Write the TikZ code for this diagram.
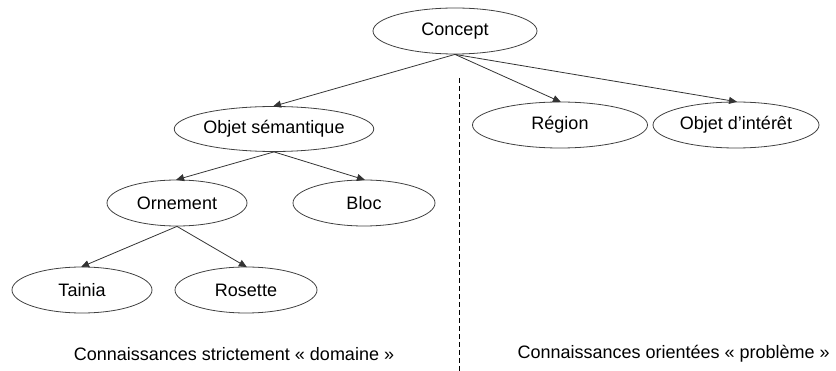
\documentclass[tikz,border=0pt]{standalone}
\usepackage{fontspec}
\setmainfont{Liberation Sans}
\usetikzlibrary{shapes.geometric,arrows.meta}
\tikzset{
  concept/.style={ellipse,draw=black!75,line width=0.8pt,inner sep=0pt,minimum height=46pt,
    font=\fontsize{18}{21}\selectfont},
  link/.style={draw=black!80,line width=0.8pt,-{Triangle[length=8pt,width=7pt]},shorten >=-1pt},
  caption/.style={font=\fontsize{18}{21}\selectfont,inner sep=0pt}
}
\begin{document}
\begin{tikzpicture}[x=1pt,y=-1pt]
\useasboundingbox (0,0) rectangle (836,371);
\node[concept,minimum width=164pt] (c) at (455,31) {Concept};
\node[concept,minimum width=164pt,minimum height=45pt] (os) at (274,129) {Objet sémantique};
\node[concept,minimum width=140pt] (orn) at (177,203) {Ornement};
\node[concept,minimum width=142pt] (bloc) at (364,203) {Bloc};
\node[concept,minimum width=140pt] (tai) at (82,290) {Tainia};
\node[concept,minimum width=142pt] (ros) at (246,290) {Rosette};
\node[concept,minimum width=175pt] (reg) at (560,125) {Région};
\node[concept,minimum width=166pt] (oi) at (736,125) {Objet d’intérêt};
\draw[link] (c.south) -- (os.north);
\draw[link] (c.south) -- (reg.north);
\draw[link] (c.south) -- (oi.north);
\draw[link] (os.south) -- (orn.north);
\draw[link] (os.south) -- (bloc.north);
\draw[link] (orn.south) -- (tai.north);
\draw[link] (orn.south) -- (ros.north);
\coordinate (dtop) at (459,78);
\coordinate (dbot) at (459,371);
\draw[line width=0.8pt,dash pattern=on 5pt off 3pt] (dtop) -- (dbot);
\node[caption] (cl) at (234,354) {Connaissances strictement « domaine »};
\node[caption,anchor=east] (cr) at (830,354) {Connaissances orientées « problème »};
\end{tikzpicture}
\end{document}
